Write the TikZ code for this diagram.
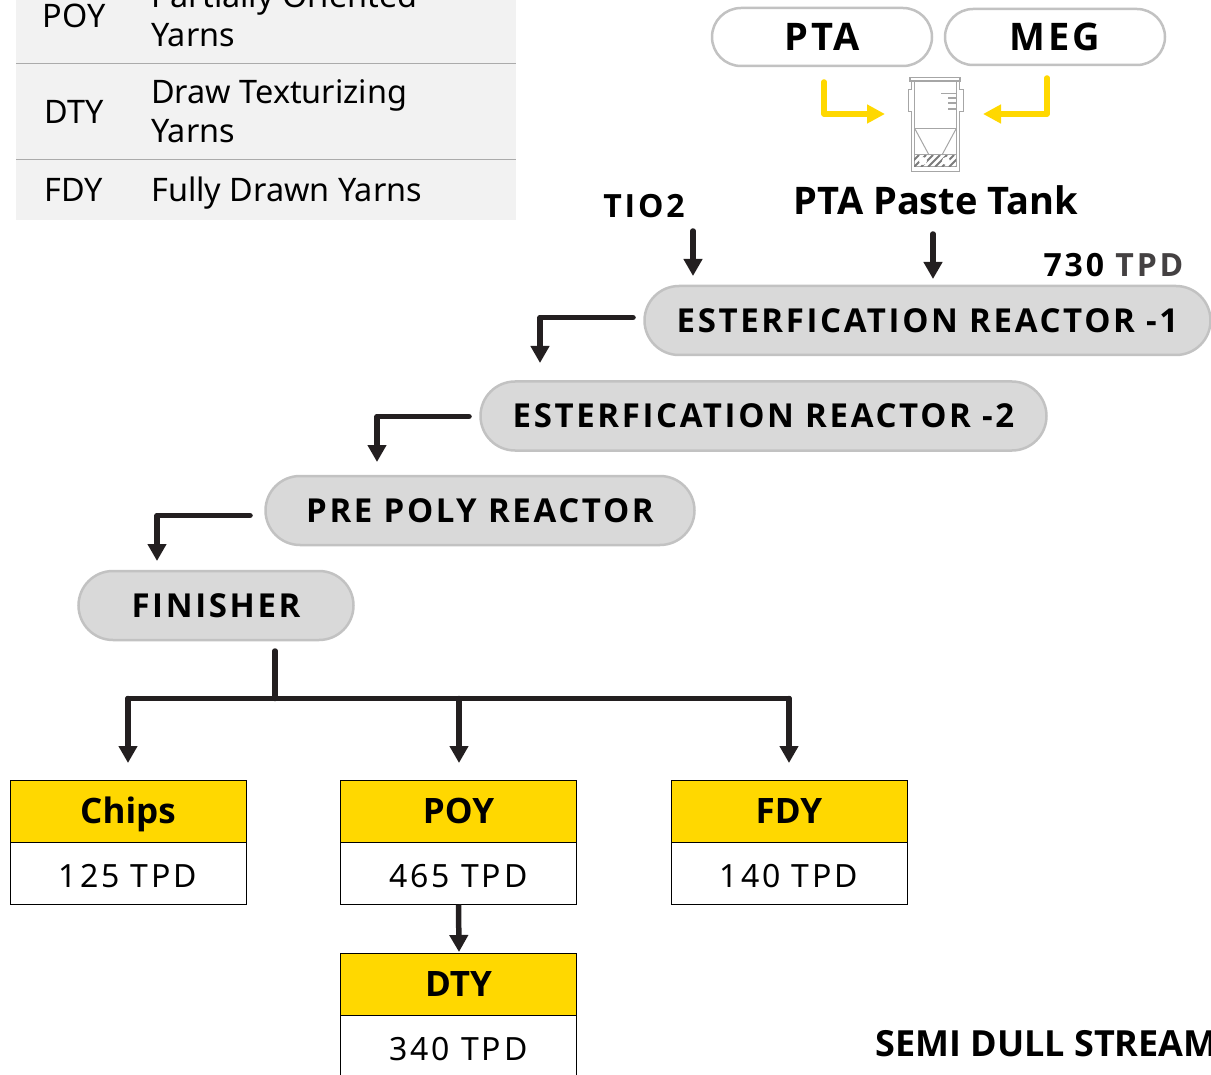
\documentclass[tikz,border=0pt]{standalone}
\usepackage{fontspec}
\usepackage{xcolor}
\usetikzlibrary{
    arrows.meta,
    shapes.misc,
    calc
}
\setmainfont{Noto Sans}
\newfontfamily\ratefont[LetterSpace=9]{Noto Sans}
\newfontfamily\boldfont{Open Sans}[BoldFont={Open Sans Bold}]
\newfontfamily\spacedfont{Open Sans}[LetterSpace=8,BoldFont={Open Sans Bold}]
\newfontfamily\widefont{Open Sans}[LetterSpace=9,BoldFont={Open Sans Bold}]
\definecolor{pillfill}{HTML}{D9D9D9}
\definecolor{pillline}{HTML}{C2C2C2}
\definecolor{flowblack}{HTML}{231F20}
\definecolor{flowyellow}{HTML}{FFD800}
\definecolor{tablefill}{HTML}{F2F2F2}
\definecolor{tableline}{HTML}{ABABAB}
\definecolor{tankline}{HTML}{A6A6A6}
\tikzset{
    pill/.style={rounded rectangle, draw=pillline, line width=2.5pt, fill=pillfill, inner sep=0pt,
        text=black, font=\fontsize{33}{33}\spacedfont\bfseries},
    feed/.style={pill, fill=white, font=\fontsize{38}{38}\spacedfont\bfseries},
    headbox/.style={draw=black, line width=1pt, fill=flowyellow, minimum width=236pt, minimum height=62pt,
        inner sep=0pt, text height=25pt, text depth=0pt, font=\fontsize{35}{35}\boldfont\bfseries},
    ratebox/.style={draw=black, line width=1pt, fill=white, minimum width=236pt, minimum height=62pt,
        inner sep=0pt, text height=29pt, text depth=0pt, font=\fontsize{32}{32}\ratefont},
    cell/.style={inner sep=0pt, anchor=base west, font=\fontsize{32.4}{32.4}\selectfont},
    abbr/.style={inner sep=0pt, font=\fontsize{32.4}{32.4}\selectfont},
    flow/.style={draw=flowblack, line width=5.5pt, line cap=round, line join=round,
        -{Triangle[length=17pt,width=18pt]}},
    trunk/.style={draw=flowblack, line width=5.5pt, line cap=round, line join=round},
    feedflow/.style={draw=flowyellow, line width=5.5pt, line cap=round, line join=round,
        -{Triangle[length=18pt,width=18pt]}},
    tank/.style={draw=tankline, line width=1pt}
}

\begin{document}
\begin{tikzpicture}[x=1pt, y=-1pt]
    \useasboundingbox (0, 0) rectangle (1211, 1075);
    \clip (0, 0) rectangle (1211, 1075);

    % table
    \fill[tablefill] (16, 0) rectangle (516, 220);
    \draw[tableline, line width=1.2pt] (16, 63.5) -- (516, 63.5);
    \draw[tableline, line width=1.2pt] (16, 159.5) -- (516, 159.5);
    \node[abbr] (abbrpoy) at (74, 16) {POY};
    \node[abbr] (abbrdty) at (74, 112) {DTY};
    \node[abbr] (abbrfdy) at (74, 190) {FDY};
    \node[cell] (namepoya) at (151, 8) {Partially Oriented};
    \node[cell] (namepoyb) at (151, 47) {Yarns};
    \node[cell] (namedtya) at (151, 104) {Draw Texturizing};
    \node[cell] (namedtyb) at (151, 143) {Yarns};
    \node[cell] (namefdy) at (151, 202) {Fully Drawn Yarns};

    % feeds
    \node[feed, minimum width=220pt, minimum height=58pt] (pta) at (822, 37) {PTA};
    \node[feed, minimum width=220pt, minimum height=56pt] (meg) at (1055, 37) {MEG};

    % tank
    \draw[tank, line width=1.5pt] (910, 81) -- (910, 77.5) -- (960, 77.5) -- (960, 81) -- cycle;
    \draw[tank] (911, 81) -- (911, 90) -- (908, 90) -- (908, 112) -- (911, 112) -- (911, 172) -- (959, 172)
        -- (959, 112) -- (963, 112) -- (963, 90) -- (959, 90) -- (959, 81);
    \draw[tank] (914, 81) -- (914, 167) -- (956, 167) -- (956, 81);
    \draw[tank] (914, 129) -- (956, 129);
    \draw[tank] (915, 129) -- (929, 155);
    \draw[tank] (956, 129) -- (942, 155);
    \begin{scope}
        \clip (914, 155) rectangle (956, 167);
        \foreach \hx in {900, 907, ..., 956}
            \draw[tankline!75!black, line width=2pt] (\hx, 167) -- (\hx + 12, 155);
    \end{scope}
    \draw[tank] (914, 155) -- (956, 155);
    \fill[white] (923, 161) circle (4);
    \fill[white] (946, 161) circle (4);
    \foreach \ty/\tx in {93.5/941, 98/948, 103/948, 109/948}
        \draw[tank, line width=1.5pt] (\tx, \ty) -- (956, \ty);

    % yellow feeds
    \coordinate (ptaout) at (824, 82);
    \coordinate (tankleft) at (885, 114);
    \coordinate (megout) at (1047, 78);
    \coordinate (tankright) at (983, 114);
    \draw[feedflow] (ptaout) |- (tankleft);
    \draw[feedflow] (megout) |- (tankright);

    % labels
    \node[inner sep=0pt, font=\fontsize{32}{32}\widefont\bfseries] (tio) at (644, 206) {TIO2};
    \node[inner sep=0pt, font=\fontsize{38}{38}\boldfont\bfseries] (paste) at (936, 200) {PTA Paste Tank};
    \node[inner sep=0pt, font=\fontsize{32}{32}\widefont\bfseries] (rate) at (1113.5, 265) {730 \textcolor{flowblack!85}{TPD}};

    % reactors
    \node[pill, minimum width=566pt, minimum height=69pt] (estera) at (927.5, 320.5) {ESTERFICATION REACTOR -1};
    \node[pill, minimum width=566pt, minimum height=69pt] (esterb) at (763.5, 416) {ESTERFICATION REACTOR -2};
    \node[pill, minimum width=429pt, minimum height=69pt] (prepoly) at (480, 510.5) {PRE POLY REACTOR};
    \node[pill, minimum width=275pt, minimum height=69pt] (finisher) at (216, 605.5) {FINISHER};

    \coordinate (tioout) at (693, 231);
    \coordinate (tioin) at (693, 276);
    \coordinate (pasteout) at (933, 234);
    \coordinate (pastein) at (933, 279);
    \draw[flow] (tioout) -- (tioin);
    \draw[flow] (pasteout) -- (pastein);

    \coordinate (esteraout) at (633, 317.5);
    \coordinate (esterbin) at (540, 363);
    \coordinate (esterbout) at (469, 416.5);
    \coordinate (prepolyin) at (377, 462);
    \coordinate (prepolyout) at (250, 515.5);
    \coordinate (finisherin) at (157, 561);
    \draw[flow] (esteraout) -| (esterbin);
    \draw[flow] (esterbout) -| (prepolyin);
    \draw[flow] (prepolyout) -| (finisherin);

    % products
    \node[headbox] (chips) at (128, 811) {Chips};
    \node[ratebox] (chipsrate) at (128, 873) {125 TPD};
    \node[headbox] (poy) at (458.5, 811) {POY};
    \node[ratebox] (poyrate) at (458.5, 873) {465 TPD};
    \node[headbox] (fdy) at (789, 811) {FDY};
    \node[ratebox] (fdyrate) at (789, 873) {140 TPD};
    \node[headbox] (dty) at (458.5, 984) {DTY};
    \node[ratebox] (dtyrate) at (458.5, 1046) {340 TPD};

    \coordinate (finout) at (275, 651);
    \coordinate (split) at (275, 698.5);
    \coordinate (splita) at (128, 698.5);
    \coordinate (splitb) at (459, 698.5);
    \coordinate (splitc) at (789, 698.5);
    \coordinate (chipsin) at (128, 763);
    \coordinate (poyin) at (459, 763);
    \coordinate (fdyin) at (789, 763);
    \coordinate (dtyin) at (459, 952);
    \draw[trunk] (finout) -- (split);
    \draw[trunk] (splita) -- (splitc);
    \draw[flow] (splita) -- (chipsin);
    \draw[flow] (splitb) -- (poyin);
    \draw[flow] (splitc) -- (fdyin);
    \draw[flow, line cap=butt] (poyrate.south) -- (dtyin);

    \node[inner sep=0pt, anchor=base west, font=\fontsize{36}{36}\boldfont\bfseries] (stream) at (875, 1056) {SEMI DULL STREAM};
\end{tikzpicture}
\end{document}
